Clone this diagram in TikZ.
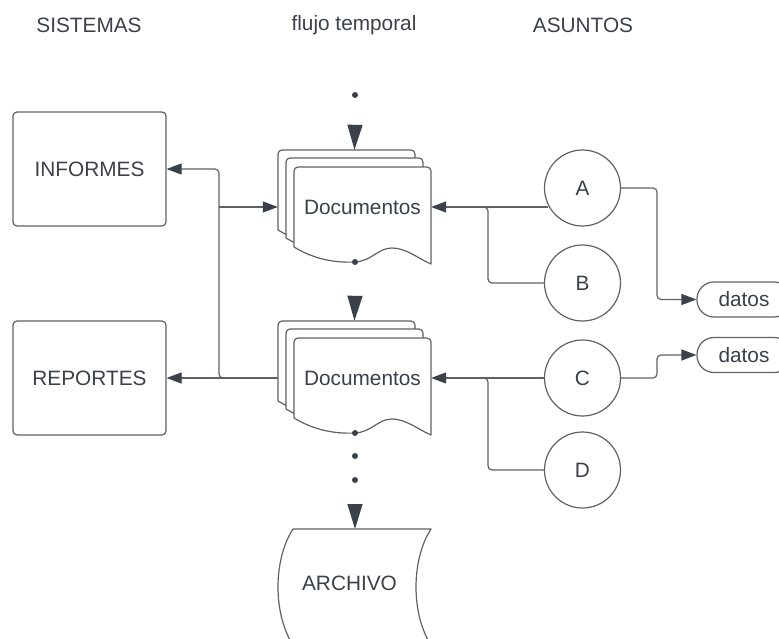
\documentclass[tikz,border=0pt]{standalone}
\usepackage{fontspec}
\setmainfont{Liberation Sans}
\usetikzlibrary{arrows.meta}
\definecolor{txt}{HTML}{3A414A}
\definecolor{ln}{HTML}{5E6167}
\newcommand\docsheet[2]{%
  \begin{scope}[shift={(#1,#2)}]
    \filldraw[sheet] (0,80) -- (0,4) to[out=90,in=180] (4,0) -- (133,0)
      to[out=0,in=90] (137,4) -- (137,97)
      .. controls (125,92) and (112,81) .. (98,81)
      .. controls (84,81) and (78,94) .. (61,95)
      .. controls (40,96) and (20,92) .. (0,80) -- cycle;
  \end{scope}}
\begin{document}
\begin{tikzpicture}[x=1pt,y=-1pt,
  every node/.style={text=txt,font=\fontsize{20.8}{25}\selectfont},
  sheet/.style={draw=ln,fill=white,line width=1.2pt,line join=round},
  box/.style={draw=ln,line width=1.2pt,rounded corners=4pt,minimum width=153pt,minimum height=114pt},
  circ/.style={draw=ln,line width=1.2pt,circle,minimum size=76pt,inner sep=0pt},
  pill/.style={draw=ln,line width=1.2pt,rounded corners=17pt,minimum width=94pt,minimum height=35pt,inner sep=0pt},
  conn/.style={draw=ln,line width=1.2pt,rounded corners=4pt,-{Triangle[length=15pt,width=11pt,fill=txt,color=txt]}},
  plain/.style={draw=ln,line width=1.2pt,rounded corners=4pt},
  flow/.style={draw=txt,line width=1.2pt,-{Triangle[length=25pt,width=15pt,fill=txt,color=txt]}},
  dotn/.style={circle,fill=txt,inner sep=0pt,minimum size=6pt},
  ghost/.style={inner sep=0pt,minimum width=153pt,minimum height=114pt}]
\useasboundingbox (0,0) rectangle (779,639);
\fill[white] (0,0) rectangle (779,639);

% headers
\node (h1) at (89,25) {SISTEMAS};
\node (h2) at (354,25) {flujo temporal};
\node (h3) at (583,25) {ASUNTOS};

% systems
\node[box] (inf) at (89.5,169) {INFORMES};
\node[box] (rep) at (89.5,378) {REPORTES};

% documents
\docsheet{278}{150}\docsheet{286}{158}\docsheet{294}{167}
\docsheet{278}{321}\docsheet{286}{329}\docsheet{294}{338}
\node[ghost] (doc1) at (354.5,207) {};
\node[ghost] (doc2) at (354.5,378) {};
\node (doc1t) at (362.5,207) {Documentos};
\node (doc2t) at (362.5,378) {Documentos};

% archive
\draw[sheet] (293,645) .. controls (273,614) and (273,560) .. (293,529)
  -- (431,529) .. controls (411,560) and (411,614) .. (431,645);
\coordinate (archtop) at (355,529);
\node (arch) at (349.5,583) {ARCHIVO};

% subjects
\node[circ] (A) at (582.5,188) {A};
\node[circ] (B) at (582.5,283) {B};
\node[circ] (C) at (582.5,378) {C};
\node[circ] (D) at (582.5,470) {D};

\node[pill] (d1) at (744,299.5) {datos};
\node[pill] (d2) at (744,355) {datos};

% flow dots and arrows
\node[dotn] (p0) at (355,95) {};
\node[dotn] (p1) at (355,262) {};
\node[dotn] (p2) at (355,433) {};
\node[dotn] (p3) at (355,456) {};
\node[dotn] (p4) at (355,480) {};
\coordinate (f1) at (355,125);
\coordinate (f2) at (355,296);
\coordinate (f3) at (355,504);
\draw[flow] (f1) -- (doc1.north);
\draw[flow] (f2) -- (doc2.north);
\draw[flow] (f3) -- (archtop);

% subjects to documents
\coordinate (aw) at (548,207);
\draw[conn] (aw) -- (doc1.east);
\draw[plain] (B.west) -- (488,283) -- (488,207) -- (484,207);
\draw[conn] (C.west) -- (doc2.east);
\draw[plain] (D.west) -- (488,470) -- (488,378) -- (484,378);

% subjects to datos
\draw[conn] (A.east) -- (657,188) -- (657,299.5) -- (d1.west);
\draw[conn] (C.east) -- (657,378) -- (657,355) -- (d2.west);

% documents to systems
\coordinate (j) at (219,207);
\draw[conn] (doc2.west) -- (219,378) -- (219,169) -- (inf.east);
\draw[conn] (doc2.west) -- (rep.east);
\draw[conn] (j) -- (doc1.west);
\end{tikzpicture}
\end{document}
